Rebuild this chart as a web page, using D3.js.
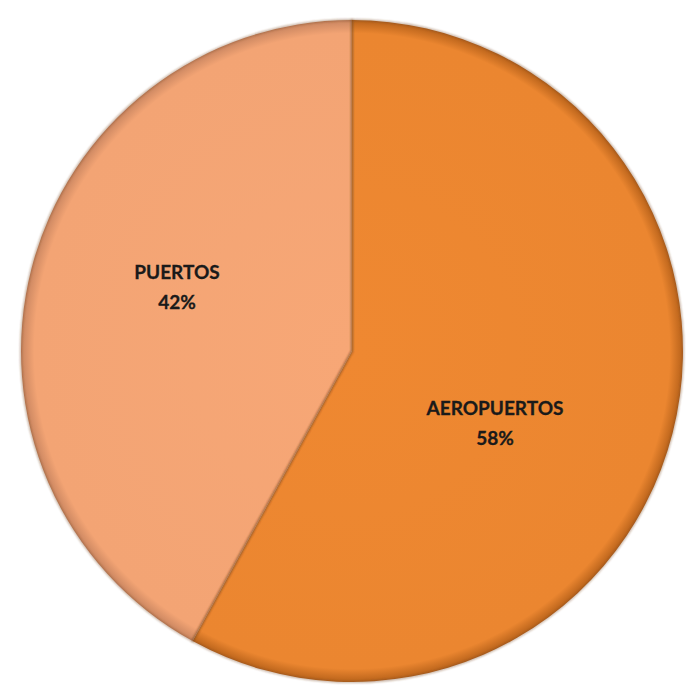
<!DOCTYPE html>
<html><head><meta charset="utf-8">
<script src="https://cdn.jsdelivr.net/npm/d3@7"></script>
<style>html,body{margin:0;padding:0;background:#fff;}</style>
</head><body>
<script>
const categories = ["AEROPUERTOS", "PUERTOS"];
const values = [58, 42];
const colors = ["#EB8630", "#F3A474"];
const edgeColors = ["#B8621A", "#C98560"];

const W = 698, H = 694, cx = 352, cy = 351, R = 331;
const svg = d3.select("body").append("svg").attr("width", W).attr("height", H);
const defs = svg.append("defs");
categories.forEach((c, i) => {
  const g = defs.append("radialGradient").attr("id", "g" + i)
    .attr("gradientUnits", "userSpaceOnUse").attr("cx", 0).attr("cy", 0).attr("r", R);
  g.append("stop").attr("offset", "0%").attr("stop-color", d3.color(colors[i]).brighter(0.05));
  g.append("stop").attr("offset", "96%").attr("stop-color", colors[i]);
  g.append("stop").attr("offset", "100%").attr("stop-color", edgeColors[i]);
});
const f = defs.append("filter").attr("id", "blur").attr("x", "-5%").attr("y", "-5%").attr("width", "110%").attr("height", "110%");
f.append("feGaussianBlur").attr("stdDeviation", 1.2);

const pie = d3.pie().sort(null).value(d => d)(values);
const arc = d3.arc().innerRadius(0).outerRadius(R);
const g = svg.append("g").attr("transform", `translate(${cx},${cy})`);
g.selectAll("path.s").data(pie).join("path").attr("class", "s")
  .attr("d", arc).attr("fill", (d, i) => `url(#g${i})`);
g.selectAll("path.b").data(pie).join("path").attr("class", "b")
  .attr("d", arc).attr("fill", "none").attr("stroke", "#7a4a2a").attr("stroke-opacity", 0.6)
  .attr("stroke-width", 1.5).attr("filter", "url(#blur)");

const labelPos = [[143, 64], [-175, -72]];
categories.forEach((c, i) => {
  const t = g.append("text").attr("text-anchor", "middle")
    .attr("font-family", "Lato, 'Open Sans', sans-serif").attr("font-weight", "bold")
    .attr("font-size", 19).attr("fill", "#1a1a1a")
    .attr("stroke", "#1a1a1a").attr("stroke-width", 0.3);
  t.append("tspan").attr("x", labelPos[i][0]).attr("y", labelPos[i][1]).text(c);
  t.append("tspan").attr("x", labelPos[i][0]).attr("y", labelPos[i][1] + 30).text(values[i] + "%");
});
</script>
</body></html>
